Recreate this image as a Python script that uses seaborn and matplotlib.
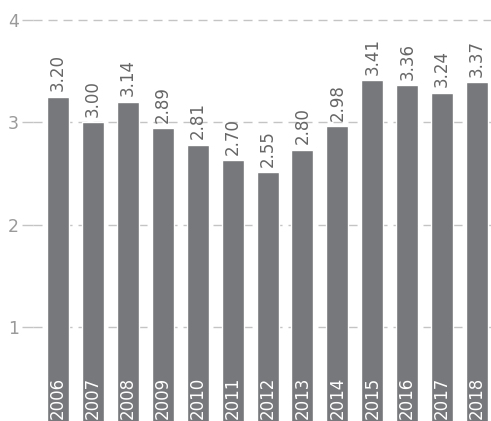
import matplotlib
matplotlib.use("Agg")
import matplotlib.pyplot as plt
import seaborn as sb

# data
years = ["2006", "2007", "2008", "2009", "2010", "2011", "2012",
         "2013", "2014", "2015", "2016", "2017", "2018"]
# bar heights as drawn
values = [3.25, 3.00, 3.20, 2.94, 2.78, 2.63, 2.51, 2.73, 2.96, 3.41, 3.36, 3.29, 3.39]
# value labels as printed above the bars
labels = ["3.20", "3.00", "3.14", "2.89", "2.81", "2.70", "2.55",
          "2.80", "2.98", "3.41", "3.36", "3.24", "3.37"]
yticks = [1, 2, 3, 4]

sb.set_style("white")
plt.rcParams["font.family"] = ["DejaVu Sans"]

fig = plt.figure(figsize=(4.91, 4.21), dpi=100)
ax = fig.add_axes([33 / 491, 0, 1 - 33 / 491, 1])

sb.barplot(x=years, y=values, color="#77787b", saturation=1, width=0.63, ax=ax)

ybot = 0.08
ax.set_ylim(ybot, 4.195)
ax.set_xlim(-0.716, 12.4)

ax.set_yticks(yticks)
ax.set_yticklabels([str(t) for t in yticks], fontsize=12.5, color="#9a9a9a")
ax.tick_params(axis="y", length=8, width=1, color="#c4c4c4", pad=2, left=True)
ax.set_xticks([])
ax.grid(axis="y", color="#c4c4c4", linestyle=(0, (6.5, 4.3)), linewidth=1)
ax.set_axisbelow(True)
for s in ax.spines.values():
    s.set_visible(False)

for i, (v, lab, yr) in enumerate(zip(values, labels, years)):
    ax.annotate(lab, (i, v), xytext=(0, 4), textcoords="offset points",
                rotation=90, ha="center", va="bottom", fontsize=12,
                color="#666666")
    ax.annotate(yr, (i, ybot), xytext=(0, 1.5), textcoords="offset points",
                rotation=90, ha="center", va="bottom", fontsize=12,
                color="white")

fig.savefig("out.png", dpi=100)
